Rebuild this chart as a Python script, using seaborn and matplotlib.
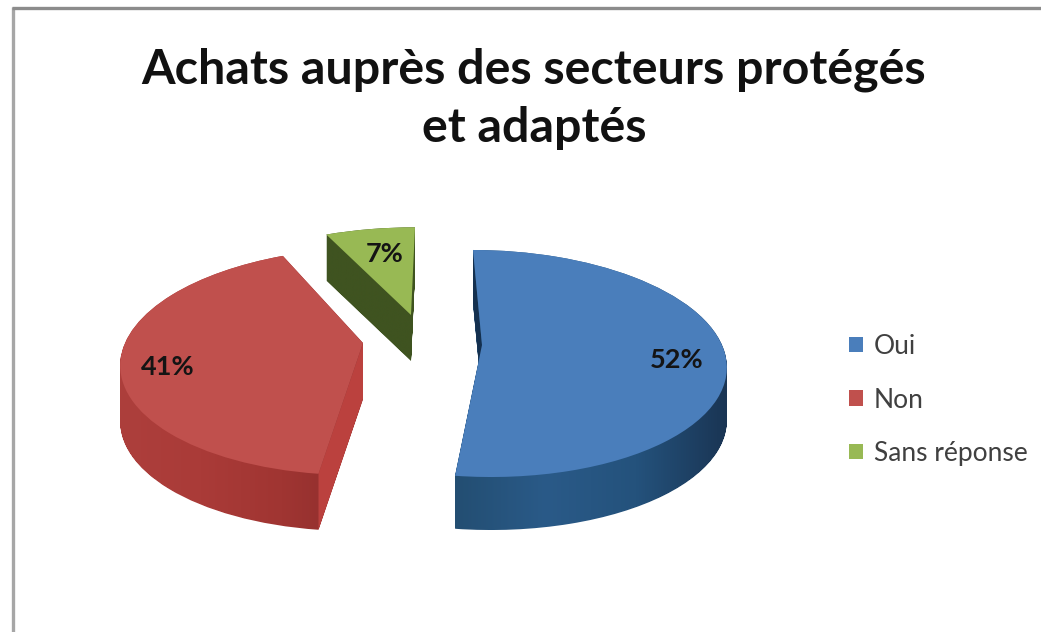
import numpy as np
import matplotlib
matplotlib.use("Agg")
import matplotlib.pyplot as plt
from matplotlib.colors import to_rgb
from matplotlib.patches import PathPatch, Polygon
from matplotlib.path import Path
from matplotlib.transforms import Transform
import seaborn as sns

TITLE = "Achats auprès des secteurs protégés\net adaptés"
categories = ["Oui", "Non", "Sans réponse"]
shares = [52, 41, 7]

top_colors = ["#4a7ebb", "#c0504d", "#98b954"]
wall_stops = [["#234e72", "#2a5a88", "#24527c", "#1a3554"],
              ["#ad3f3c", "#aa3b38", "#a03532", "#8c2d2c"],
              ["#3f5320", "#3f5320", "#3f5320", "#3f5320"]]

# slice placement on the tilted disc: apex x, apex y, rx, ry, shear, depth
placement = [(482, 345, 240, 110.5, -9, 53),
             (363, 343, 238, 110.5, 9, 56),
             (411, 315, 238, 102.0, 4, 46)]
TILT = 0.163
label_xy = [(677, 360), (168, 367), (385, 254)]

sns.set_theme(style="white")
plt.rcParams["font.family"] = ["Lato", "DejaVu Sans"]


class Tilt(Transform):
    """Perspective view of the unit pie, giving pixel coordinates."""
    input_dims = 2
    output_dims = 2

    def __init__(self, cx, cy, rx, ry, shear):
        super().__init__()
        self.p = (cx, cy, rx, ry, shear)

    def transform_non_affine(self, values):
        cx, cy, rx, ry, shear = self.p
        values = np.asarray(values, dtype=float)
        u, v = values[:, 0], values[:, 1]
        f = 1 / (1 + TILT * v)
        return np.column_stack([cx + rx * u * f + shear * v, cy - ry * v * f])


def cut_face(i, angle_deg, color, z):
    cx, cy, rx, ry, shear, depth = placement[i]
    ang = np.deg2rad(angle_deg)
    edge = Tilt(cx, cy, rx, ry, shear).transform(np.array([[0, 0], [np.cos(ang), np.sin(ang)]]))
    ax.add_patch(Polygon([edge[0], edge[1], edge[1] + [0, depth], edge[0] + [0, depth]],
                         closed=True, facecolor=color, edgecolor="none", zorder=z))


fig = plt.figure(figsize=(10.41, 6.32), dpi=100, facecolor="white")
ax = fig.add_axes([0, 0, 1, 1])
wedges, _ = ax.pie(shares, colors=top_colors, startangle=90, counterclock=False,
                   wedgeprops={"linewidth": 0})

for i in [2, 1, 0]:
    cx, cy, rx, ry, shear, depth = placement[i]
    tilt = Tilt(cx, cy, rx, ry, shear)
    wedge = wedges[i]
    outline = tilt.transform_path(wedge.get_path()).to_polygons(closed_only=True)[0]
    layers = [Path(outline + [0, d]) for d in np.arange(0, depth + 0.5, 1.0)]
    swept = Path.make_compound_path(*layers)
    x0, x1 = outline[:, 0].min(), outline[:, 0].max()
    y0, y1 = outline[:, 1].min(), outline[:, 1].max() + depth
    stops = np.array([to_rgb(c) for c in wall_stops[i]])
    t = np.linspace(0, 1, 256)
    grad = np.column_stack([np.interp(t, np.linspace(0, 1, len(stops)), stops[:, c])
                            for c in range(3)])[None, :, :]
    im = ax.imshow(grad, extent=(x0, x1, y1, y0), aspect="auto", zorder=1 + (2 - i) * 0.1)
    im.set_clip_path(PathPatch(swept, transform=ax.transData))
    wedge.set_transform(tilt + ax.transData)
    wedge.set_zorder(2 + (2 - i) * 0.1)
    wedge.set_clip_on(False)
    wedge.set_label(categories[i])

# visible cut faces of the red and blue slices
cut_face(1, 90 - 3.6 * shares[0], "#bb413e", 1.15)
cut_face(0, 90, "#14304f", 1.25)

ax.set_aspect("auto")
ax.set_xlim(0, 1041)
ax.set_ylim(632, 0)
ax.axis("off")

ax.plot([13, 13], [7, 632], color="#a6a6a6", lw=2.4, solid_capstyle="butt", zorder=5)
ax.plot([12, 1041], [8, 8], color="#8c8c8c", lw=2.4, solid_capstyle="butt", zorder=5)

ax.text(534, 99, TITLE, ha="center", va="center", fontsize=34.8, fontweight="bold",
        color="#111111", linespacing=1.4, zorder=6)
for (x, y), v in zip(label_xy, shares):
    ax.text(x, y, f"{v}%", ha="center", va="center", fontsize=19.5, fontweight="bold",
            color="#141414", zorder=6)

leg = ax.legend(wedges, categories, loc="upper left", bbox_to_anchor=(849 / 1041, 1 - 334 / 632),
                frameon=False, fontsize=19, handlelength=0.53, handleheight=0.53,
                handletextpad=0.42, labelspacing=1.08, borderpad=0, borderaxespad=0,
                labelcolor="#404040")

fig.savefig("out.png", dpi=100)
